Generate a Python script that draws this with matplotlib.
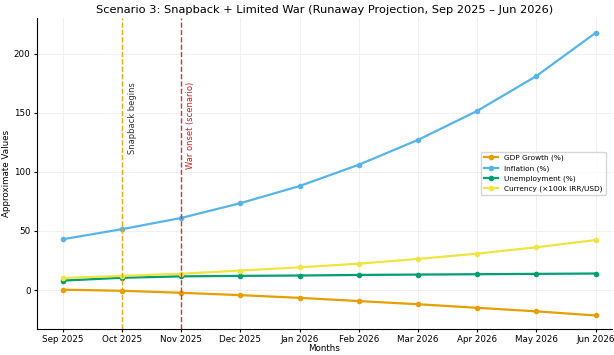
import numpy as np
import matplotlib.pyplot as plt

months = ["Sep 2025", "Oct 2025", "Nov 2025", "Dec 2025", "Jan 2026",
          "Feb 2026", "Mar 2026", "Apr 2026", "May 2026", "Jun 2026"]
gdp = [0.3, -0.6, -2.3, -4.3, -6.6, -9.3, -12.0, -15.0, -18.0, -21.5]
inflation = [43, 51.5, 61, 73.5, 88, 106, 127, 151.5, 181, 217.5]
unemployment = [8, 10.4, 11.6, 12, 12.3, 12.8, 13.1, 13.4, 13.7, 14]
currency = [10.2, 12, 13.8, 16.5, 19.2, 22.3, 26.3, 30.8, 36.2, 42.3]

x = np.arange(len(months))

fig = plt.figure(figsize=(6.14, 3.55), dpi=100)
ax = fig.add_axes([0.060, 0.073, 0.936, 0.876])
ax.plot(x, gdp, "o-", color="#E69F00", lw=1.6, ms=3, label="GDP Growth (%)")
ax.plot(x, inflation, "o-", color="#56B4E9", lw=1.6, ms=3, label="Inflation (%)")
ax.plot(x, unemployment, "o-", color="#009E73", lw=1.6, ms=3, label="Unemployment (%)")
ax.plot(x, currency, "o-", color="#F0E442", lw=1.6, ms=3, label="Currency (×100k IRR/USD)")

# event markers
ax.axvline(1, color="#E6A817", ls="--", lw=1)
ax.axvline(2, color="#E03030", ls="--", lw=1)
ax.text(1.1, 176, "Snapback begins", rotation=90, va="top", ha="left", fontsize=6, color="#333333")
ax.text(2.08, 176, "War onset (scenario)", rotation=90, va="top", ha="left", fontsize=6, color="#D02020")

ax.set_xticks(x)
ax.set_xticklabels(months, fontsize=6.3)
ax.tick_params(axis="both", length=2.5, pad=2, labelsize=6.3)
ax.set_ylim(-33, 230)
ax.set_xlim(-0.44, 9.27)
ax.set_title("Scenario 3: Snapback + Limited War (Runaway Projection, Sep 2025 – Jun 2026)",
             fontsize=8.2, pad=4)
ax.set_xlabel("Months", fontsize=6.3, labelpad=0)
ax.set_ylabel("Approximate Values", fontsize=6.3, labelpad=2)
ax.grid(True, color="#eeeeee", lw=0.6)
ax.spines["top"].set_visible(False)
ax.spines["right"].set_visible(False)
ax.legend(loc="center right", fontsize=5.3, borderaxespad=0.8)

plt.savefig("out.png", dpi=100)
